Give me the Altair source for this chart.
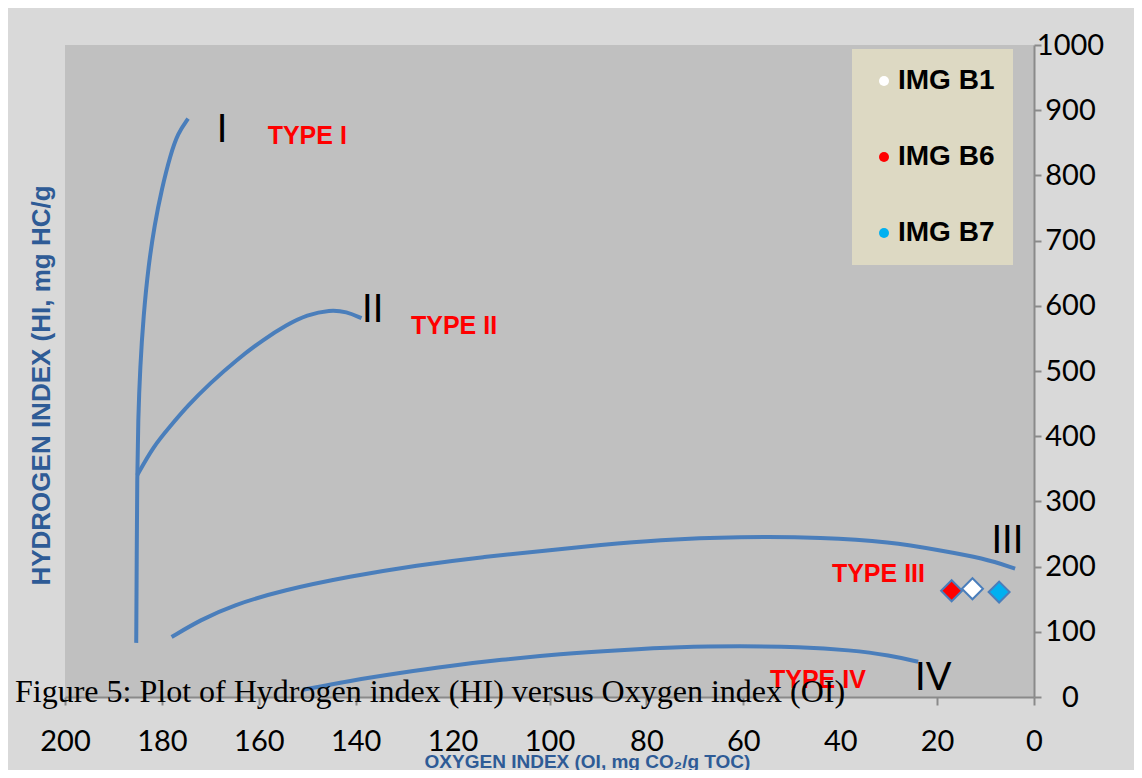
import altair as alt
import pandas as pd

# ---------------- data ----------------
x_ticks = [0, 20, 40, 60, 80, 100, 120, 140, 160, 180, 200]
y_ticks = [0, 100, 200, 300, 400, 500, 600, 700, 800, 900, 1000]

# Type I curve
type1_oi = [185.3, 185.2, 185.1, 184.9, 184.5, 183.8, 182.8, 181.5, 180.0, 178.3, 176.7, 174.6]
type1_hi = [83, 210, 340, 425, 505, 585, 660, 725, 780, 830, 865, 887]
# Type II curve
type2_oi = [185.1, 181.8, 178.3, 174.9, 170.1, 164.6, 159.1, 154.2, 150.1, 145.3, 141.9, 138.8]
type2_hi = [340, 384, 415, 445, 481, 517, 548, 571, 586, 594, 591, 581]
# Type III curve
type3_oi = [178.0, 172.1, 165.3, 154.9, 141.2, 127.4, 113.7, 99.9, 89.6, 77.9, 60.7, 43.5, 29.7, 19.4, 10.5, 3.9]
type3_hi = [92, 118, 141, 164, 185, 202, 215, 225, 233, 241, 246, 245, 238, 225, 213, 197]
# Type IV curve
type4_oi = [150.9, 141.2, 130.9, 120.5, 110.2, 97.8, 85.4, 73.1, 60.7, 48.3, 38.0, 29.7, 23.9]
type4_hi = [11, 25, 37, 48, 57, 66, 72, 77, 78, 77, 72, 64, 54]

# Samples
samples = ["IMG B1", "IMG B6", "IMG B7"]
sample_oi = [12.7, 17.0, 7.2]
sample_hi = [166, 163, 161]
sample_colors = ["#ffffff", "#ff0000", "#00b0f0"]

# Curve labels
numeral_text = ["I", "II", "III", "IV"]
numeral_oi = [167.6, 136.5, 5.5, 20.8]
numeral_hi = [868, 592, 237, 28]

type_text = ["TYPE I", "TYPE II", "TYPE III", "TYPE IV"]
type_oi = [150.0, 119.7, 32.1, 44.6]
type_hi = [860, 569, 188, 26]

caption = "Figure 5: Plot of Hydrogen index (HI) versus Oxygen index (OI)"
x_title = "OXYGEN INDEX (OI, mg CO\u2082/g TOC)"
y_title = "HYDROGEN INDEX (HI, mg HC/g"

# ---------------- tables ----------------
rows = []
for name, ois, his in [("I", type1_oi, type1_hi), ("II", type2_oi, type2_hi),
                       ("III", type3_oi, type3_hi), ("IV", type4_oi, type4_hi)]:
    for i, (o, h) in enumerate(zip(ois, his)):
        rows.append({"curve": name, "oi": o, "hi": h, "ord": i})
curves = pd.DataFrame(rows)
pts = pd.DataFrame({"sample": samples, "oi": sample_oi, "hi": sample_hi})
nums = pd.DataFrame({"t": numeral_text, "oi": numeral_oi, "hi": numeral_hi})
types = pd.DataFrame({"t": type_text, "oi": type_oi, "hi": type_hi})

BLUE = "#4a7ebb"
TITLE_BLUE = "#2e5b96"
AXIS_GRAY = "#8a8a8a"

x_scale = alt.Scale(domain=[0, 200], reverse=True, nice=False, zero=False)
y_scale = alt.Scale(domain=[0, 1000], nice=False)

x_axis = alt.Axis(
    values=x_ticks, title=x_title, orient="bottom", grid=False, format="d",
    domainColor=AXIS_GRAY, domainWidth=2, tickColor=AXIS_GRAY, tickWidth=2, tickSize=8,
    labelFont="Lato", labelFontSize=29, labelColor="black", labelPadding=36,
    labelBaseline="middle", labelFlush=False, labelOverlap=False,
    titleFont="Liberation Sans", titleFontSize=19, titleFontWeight="bold",
    titleColor=TITLE_BLUE, titleX=522, titleY=70, titleAlign="center",
    titleBaseline="alphabetic",
)
y_axis = alt.Axis(
    values=y_ticks, title=y_title, orient="right", grid=False, format="d",
    domainColor=AXIS_GRAY, domainWidth=2, tickColor=AXIS_GRAY, tickWidth=2, tickSize=7,
    labelFont="Lato", labelFontSize=29, labelColor="black", labelPadding=29,
    labelAlign="center", labelBaseline="middle", labelFlush=False, labelOverlap=False,
    titleFont="Liberation Sans", titleFontSize=26, titleFontWeight="bold",
    titleColor=TITLE_BLUE, titleAngle=270, titleX=-993, titleY=340,
    titleAlign="center", titleBaseline="middle",
)

lines = alt.Chart(curves).mark_line(
    color=BLUE, strokeWidth=4, interpolate="basis", strokeCap="butt"
).encode(
    x=alt.X("oi:Q", scale=x_scale, axis=x_axis),
    y=alt.Y("hi:Q", scale=y_scale, axis=y_axis),
    detail="curve:N",
    order="ord:Q",
)

points = alt.Chart(pts).mark_point(
    shape="diamond", filled=True, size=440, stroke=BLUE, strokeWidth=2, opacity=1
).encode(
    x=alt.X("oi:Q", scale=x_scale),
    y=alt.Y("hi:Q", scale=y_scale),
    fill=alt.Fill(
        "sample:N",
        scale=alt.Scale(domain=samples, range=sample_colors),
        legend=alt.Legend(
            title=None, orient="none", legendX=787, legendY=4,
            fillColor="#ddd9c3", padding=18, rowPadding=48,
            symbolType="circle", symbolSize=100, symbolStrokeWidth=0,
            labelFont="Liberation Sans", labelFontSize=28, labelFontWeight="bold",
            labelColor="black", labelOffset=0,
        ),
    ),
)

num_text = alt.Chart(nums).mark_text(
    font="Lato", fontSize=38, color="black", align="center", baseline="middle"
).encode(
    x=alt.X("oi:Q", scale=x_scale),
    y=alt.Y("hi:Q", scale=y_scale),
    text="t:N",
)

type_labels = alt.Chart(types).mark_text(
    font="Liberation Sans", fontSize=25, fontWeight="bold", color="#ff0000",
    align="center", baseline="middle"
).encode(
    x=alt.X("oi:Q", scale=x_scale),
    y=alt.Y("hi:Q", scale=y_scale),
    text="t:N",
)

chart = alt.layer(lines, type_labels, num_text, points).properties(
    width=969, height=652,
    autosize=alt.AutoSizeParams(type="none"),
    padding={"left": 57, "top": 37, "right": 100, "bottom": 73},
    background="#d9d9d9",
    title=alt.TitleParams(
        text=caption, orient="top", anchor="start", frame="group",
        font="Liberation Serif", fontSize=32, fontWeight="normal", color="black",
        dx=-50, dy=703, offset=0, baseline="alphabetic",
    ),
).configure_view(
    fill="#c0c0c0", stroke=None
)

chart.save("out.html", embed_options={"renderer": "svg", "actions": False})
